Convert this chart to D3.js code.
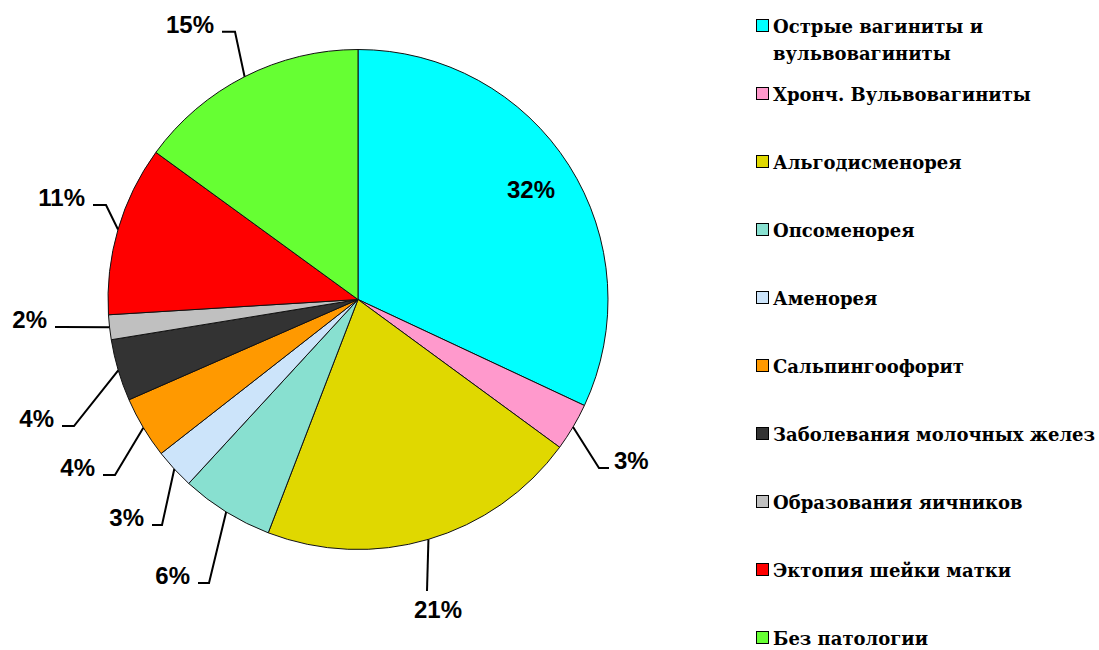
<!DOCTYPE html>
<html>
<head>
<meta charset="utf-8">
<script src="https://cdn.jsdelivr.net/npm/d3@7"></script>
<style>
  html, body { margin: 0; padding: 0; background: #fff; }
  svg { display: block; }
</style>
</head>
<body>
<svg id="chart" width="1099" height="650"></svg>
<script>
const categories = [
  'Острые вагиниты и вульвовагиниты',
  'Хронч. Вульвовагиниты',
  'Альгодисменорея',
  'Опсоменорея',
  'Аменорея',
  'Сальпингоофорит',
  'Заболевания молочных желез',
  'Образования яичников',
  'Эктопия шейки матки',
  'Без патологии',
];
const legendLines = [
  ['Острые вагиниты и', 'вульвовагиниты'],
  ['Хронч. Вульвовагиниты'],
  ['Альгодисменорея'],
  ['Опсоменорея'],
  ['Аменорея'],
  ['Сальпингоофорит'],
  ['Заболевания молочных желез'],
  ['Образования яичников'],
  ['Эктопия шейки матки'],
  ['Без патологии'],
];
const shares = [32, 3.1, 20.8, 6.0, 2.6, 4.0, 4.0, 1.6, 11.0, 15.0];
const colors = ['#00ffff', '#ff99cc', '#e0d800', '#88e0d0', '#cce4fa',
  '#ff9900', '#333333', '#c0c0c0', '#ff0000', '#66ff33'];

const cx = 358, cy = 299.5, radius = 250;

// leader routes for outside labels: elbow point, end of horizontal, side of text
// (cyan label sits inside the slice)
const labelRoutes = [
  null,
  { elbow: [599, 468], end: 609, side: 'right' },
  { elbow: [427, 591], end: null, side: 'below', tx: 438, ty: 618 },
  { elbow: [209, 583], end: 198, side: 'left' },
  { elbow: [162, 525], end: 152, side: 'left' },
  { elbow: [115, 475], end: 103, side: 'left' },
  { elbow: [74, 426], end: 62, side: 'left' },
  { elbow: [62, 327], end: 55, side: 'left' },
  { elbow: [106, 205], end: 93, side: 'left' },
  { elbow: [235, 31.7], end: 222, side: 'left' },
];

const svg = d3.select('#chart');
const total = d3.sum(shares);
const fmt = v => Math.round(v / total * 100) + '%';

const pie = d3.pie().sort(null).value(d => d);
const arcs = pie(shares);
const arc = d3.arc().innerRadius(0).outerRadius(radius);

const g = svg.append('g').attr('transform', `translate(${cx},${cy})`);

g.selectAll('path.slice')
  .data(arcs)
  .join('path')
  .attr('class', 'slice')
  .attr('d', arc)
  .attr('fill', (d, i) => colors[i])
  .attr('stroke', '#111')
  .attr('stroke-width', 1)
  .attr('stroke-linejoin', 'round');

const labelFont = "'Liberation Sans', Arial, sans-serif";

// inside label for first slice
const inner = d3.arc().innerRadius(radius * 0.82).outerRadius(radius * 0.82);
const c0 = inner.centroid(arcs[0]);
g.append('text')
  .attr('x', c0[0])
  .attr('y', c0[1] + 9)
  .attr('text-anchor', 'middle')
  .attr('font-family', labelFont)
  .attr('font-size', 24)
  .attr('font-weight', 'bold')
  .text(fmt(shares[0]));

// outside labels with leader lines
arcs.forEach((d, i) => {
  const r = labelRoutes[i];
  if (!r) return;
  const mid = (d.startAngle + d.endAngle) / 2;
  const sx = cx + radius * Math.sin(mid);
  const sy = cy - radius * Math.cos(mid);
  const pts = [[sx, sy], r.elbow];
  if (r.end !== null) pts.push([r.end, r.elbow[1]]);

  svg.append('path')
    .attr('d', d3.line()(pts))
    .attr('fill', 'none')
    .attr('stroke', '#000')
    .attr('stroke-width', 2);

  let tx, ty, anchor;
  if (r.side === 'left') { tx = r.end - 8; ty = r.elbow[1] + 1; anchor = 'end'; }
  else if (r.side === 'right') { tx = r.end + 5; ty = r.elbow[1] + 1; anchor = 'start'; }
  else { tx = r.tx; ty = r.ty; anchor = 'middle'; }

  svg.append('text')
    .attr('x', tx)
    .attr('y', ty)
    .attr('text-anchor', anchor)
    .attr('font-family', labelFont)
    .attr('font-size', 24)
    .attr('font-weight', 'bold')
    .text(fmt(shares[i]));
});

// legend
const legendX = 756, legendTop = 19, legendStep = 68;
const legend = svg.append('g');
const items = legend.selectAll('g.item')
  .data(categories)
  .join('g')
  .attr('class', 'item')
  .attr('transform', (d, i) => `translate(${legendX},${legendTop + i * legendStep})`);

items.append('rect')
  .attr('x', 0.5).attr('y', 0.5)
  .attr('width', 12).attr('height', 12)
  .attr('fill', (d, i) => colors[i])
  .attr('stroke', '#000')
  .attr('stroke-width', 1);

items.each(function(d, i) {
  const t = d3.select(this).append('text')
    .attr('font-family', "'DejaVu Serif', 'Liberation Serif', serif")
    .attr('font-weight', 'bold')
    .attr('font-size', 18)
    .attr('fill', '#000');
  legendLines[i].forEach((line, k) => {
    t.append('tspan')
      .attr('x', 17)
      .attr('y', 13.5 + k * 27)
      .text(line);
  });
});
</script>
</body>
</html>
